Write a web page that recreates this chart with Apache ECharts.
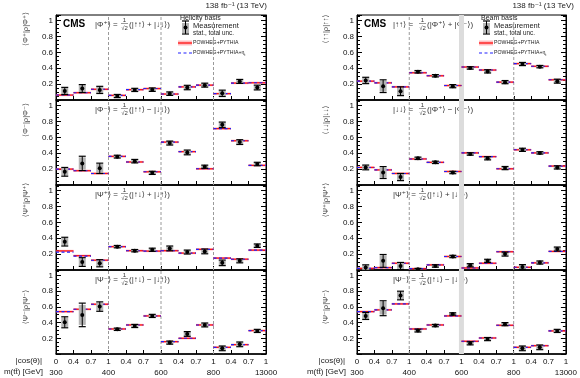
<!DOCTYPE html>
<html><head><meta charset="utf-8">
<script src="https://cdn.jsdelivr.net/npm/echarts@6/dist/echarts.min.js"></script>
<style>html,body{margin:0;padding:0;background:#fff}#c{width:580px;height:378px}</style>
</head><body><div id="c"></div>
<script>
// ---- tick labels ----
const cosLabels = ['0','0.4','0.7','1','0.4','0.7','1','0.4','0.7','1','0.4','0.7','1'];
const massLabels = ['300','','','400','','','600','','','800','','','13000'];

// ---- Helicity basis (left column) ----
const hel_phiPlus_meas = [0.114,0.144,0.127,0.050,0.127,0.130,0.080,0.157,0.187,0.084,0.234,0.157];
const hel_phiPlus_err  = [0.045,0.050,0.045,0.020,0.020,0.022,0.022,0.028,0.025,0.040,0.025,0.030];
const hel_phiPlus_pred = [0.062,0.092,0.135,0.058,0.130,0.144,0.075,0.165,0.187,0.080,0.213,0.217];
const hel_phiPlus_eta  = [0.062,0.092,0.135,0.058,0.130,0.144,0.075,0.165,0.187,0.080,0.213,0.217];

const hel_phiMinus_meas = [0.166,0.272,0.210,0.357,0.300,0.153,0.528,0.410,0.230,0.757,0.540,0.264];
const hel_phiMinus_err  = [0.055,0.090,0.065,0.018,0.022,0.020,0.025,0.030,0.020,0.035,0.030,0.022];
const hel_phiMinus_pred = [0.200,0.180,0.145,0.360,0.290,0.166,0.540,0.420,0.204,0.710,0.557,0.247];
const hel_phiMinus_eta  = [0.200,0.180,0.145,0.360,0.290,0.166,0.540,0.420,0.204,0.710,0.557,0.247];

const hel_psiPlus_meas = [0.357,0.100,0.085,0.294,0.243,0.255,0.272,0.226,0.234,0.090,0.115,0.306];
const hel_psiPlus_err  = [0.055,0.055,0.045,0.015,0.015,0.020,0.030,0.025,0.030,0.035,0.025,0.022];
const hel_psiPlus_pred = [0.240,0.180,0.123,0.294,0.243,0.238,0.243,0.213,0.260,0.150,0.136,0.250];
const hel_psiPlus_eta  = [0.225,0.175,0.123,0.294,0.243,0.238,0.243,0.213,0.260,0.150,0.136,0.250];

const hel_psiMinus_meas = [0.404,0.498,0.604,0.315,0.357,0.485,0.145,0.255,0.370,0.072,0.123,0.294];
const hel_psiMinus_err  = [0.070,0.150,0.060,0.015,0.020,0.020,0.020,0.030,0.025,0.030,0.030,0.020];
const hel_psiMinus_pred = [0.540,0.570,0.634,0.319,0.370,0.485,0.157,0.200,0.370,0.085,0.119,0.298];
const hel_psiMinus_eta  = [0.540,0.570,0.634,0.319,0.370,0.485,0.157,0.200,0.370,0.085,0.119,0.298];

// ---- Beam basis (right column) ----
const beam_upup_meas = [0.246,0.174,0.110,0.356,0.305,0.174,0.403,0.360,0.225,0.453,0.420,0.237];
const beam_upup_err  = [0.040,0.080,0.055,0.015,0.015,0.020,0.015,0.020,0.020,0.020,0.015,0.025];
const beam_upup_pred = [0.237,0.216,0.165,0.343,0.305,0.182,0.415,0.377,0.225,0.458,0.424,0.254];
const beam_upup_eta  = [0.237,0.216,0.165,0.343,0.305,0.182,0.415,0.377,0.225,0.458,0.424,0.254];

const beam_dndn_meas = [0.221,0.157,0.100,0.336,0.285,0.157,0.390,0.336,0.213,0.443,0.404,0.221];
const beam_dndn_err  = [0.030,0.075,0.045,0.015,0.015,0.015,0.015,0.020,0.020,0.020,0.015,0.020];
const beam_dndn_pred = [0.221,0.190,0.145,0.328,0.285,0.170,0.404,0.357,0.204,0.443,0.404,0.238];
const beam_dndn_eta  = [0.221,0.190,0.145,0.328,0.285,0.170,0.404,0.357,0.204,0.443,0.404,0.238];

const beam_psiPlus_meas = [0.030,0.115,0.050,0.010,0.050,0.170,0.060,0.115,0.200,0.038,0.094,0.264];
const beam_psiPlus_err  = [0.035,0.080,0.045,0.010,0.015,0.015,0.020,0.020,0.025,0.030,0.020,0.025];
const beam_psiPlus_pred = [0.020,0.030,0.085,0.017,0.064,0.170,0.026,0.085,0.230,0.034,0.090,0.234];
const beam_psiPlus_eta  = [0.020,0.030,0.085,0.017,0.064,0.170,0.026,0.085,0.230,0.034,0.090,0.234];

const beam_psiMinus_meas = [0.485,0.583,0.745,0.298,0.362,0.510,0.136,0.190,0.380,0.072,0.085,0.294];
const beam_psiMinus_err  = [0.045,0.095,0.055,0.018,0.015,0.015,0.020,0.020,0.020,0.030,0.030,0.020];
const beam_psiMinus_pred = [0.540,0.562,0.638,0.319,0.370,0.485,0.162,0.204,0.366,0.085,0.106,0.294];
const beam_psiMinus_eta  = [0.540,0.562,0.638,0.319,0.370,0.485,0.162,0.204,0.366,0.085,0.106,0.294];

const FONT = '"Liberation Sans", Arial, "DejaVu Sans", sans-serif';
const YMAX = 1.07;

const panels = [
 {col:0,row:0,meas:hel_phiPlus_meas,err:hel_phiPlus_err,pred:hel_phiPlus_pred,eta:hel_phiPlus_eta,title:'⟨Φ⁺|ρ|Φ⁺⟩',lhs:'|Φ⁺⟩ =',rhs:'(|↑↑⟩ + |↓↓⟩)'},
 {col:0,row:1,meas:hel_phiMinus_meas,err:hel_phiMinus_err,pred:hel_phiMinus_pred,eta:hel_phiMinus_eta,title:'⟨Φ⁻|ρ|Φ⁻⟩',lhs:'|Φ⁻⟩ =',rhs:'(|↑↑⟩ − |↓↓⟩)'},
 {col:0,row:2,meas:hel_psiPlus_meas,err:hel_psiPlus_err,pred:hel_psiPlus_pred,eta:hel_psiPlus_eta,title:'⟨Ψ⁺|ρ|Ψ⁺⟩',lhs:'|Ψ⁺⟩ =',rhs:'(|↑↓⟩ + |↓↑⟩)'},
 {col:0,row:3,meas:hel_psiMinus_meas,err:hel_psiMinus_err,pred:hel_psiMinus_pred,eta:hel_psiMinus_eta,title:'⟨Ψ⁻|ρ|Ψ⁻⟩',lhs:'|Ψ⁻⟩ =',rhs:'(|↑↓⟩ − |↓↑⟩)'},
 {col:1,row:0,meas:beam_upup_meas,err:beam_upup_err,pred:beam_upup_pred,eta:beam_upup_eta,title:'⟨↑↑|ρ|↑↑⟩',lhs:'|↑↑⟩ =',rhs:'(|Φ⁺⟩ + |Φ⁻⟩)'},
 {col:1,row:1,meas:beam_dndn_meas,err:beam_dndn_err,pred:beam_dndn_pred,eta:beam_dndn_eta,title:'⟨↓↓|ρ|↓↓⟩',lhs:'|↓↓⟩ =',rhs:'(|Φ⁺⟩ − |Φ⁻⟩)'},
 {col:1,row:2,meas:beam_psiPlus_meas,err:beam_psiPlus_err,pred:beam_psiPlus_pred,eta:beam_psiPlus_eta,title:'⟨Ψ⁺|ρ|Ψ⁺⟩',lhs:'|Ψ⁺⟩ =',rhs:'(|↑↓⟩ + |↓↑⟩)'},
 {col:1,row:3,meas:beam_psiMinus_meas,err:beam_psiMinus_err,pred:beam_psiMinus_pred,eta:beam_psiMinus_eta,title:'⟨Ψ⁻|ρ|Ψ⁻⟩',lhs:'|Ψ⁻⟩ =',rhs:'(|↑↓⟩ − |↓↑⟩)'}
];

const colLeft = [56, 357], colWidth = [210, 209];
const rowTop = [15, 100, 185, 270], rowH = 85;
const annY = [25, 110, 195, 280];
const titleY = [29, 120, 200, 307];

const grids = [], xAxes = [], yAxes = [], series = [], graphics = [];

function predRender(params, api) {
  const i = api.value(0), v = api.value(1), ve = api.value(2);
  const p0 = api.coord([i, v]), p1 = api.coord([i + 1, v]);
  const b0 = api.coord([i, v + 0.014]), b1 = api.coord([i + 1, v - 0.014]);
  const e0 = api.coord([i, ve]), e1 = api.coord([i + 1, ve]);
  return {type:'group', children:[
    {type:'rect', shape:{x:b0[0], y:b0[1], width:b1[0]-b0[0], height:b1[1]-b0[1]}, style:{fill:'rgba(255,110,120,0.45)'}},
    {type:'line', shape:{x1:p0[0], y1:p0[1], x2:p1[0], y2:p1[1]}, style:{stroke:'#ff1010', lineWidth:1.3}},
    {type:'line', shape:{x1:e0[0], y1:e0[1], x2:e1[0], y2:e1[1]}, style:{stroke:'#2020ff', lineWidth:1.1, lineDash:[3,2.5]}}
  ]};
}
function measRender(params, api) {
  const x = api.value(0), v = api.value(1), e = api.value(2);
  const c = api.coord([x, v]), t = api.coord([x, v + e]), b = api.coord([x, v - e]);
  const tg = api.coord([x, v + e * 0.85]), bg = api.coord([x, v - e * 0.85]);
  return {type:'group', children:[
    {type:'rect', shape:{x:c[0]-3.5, y:tg[1], width:7, height:bg[1]-tg[1]}, style:{fill:'#b4b4b4'}},
    {type:'line', shape:{x1:c[0], y1:t[1], x2:c[0], y2:b[1]}, style:{stroke:'#000', lineWidth:1}},
    {type:'line', shape:{x1:c[0]-3.5, y1:t[1], x2:c[0]+3.5, y2:t[1]}, style:{stroke:'#000', lineWidth:1.2}},
    {type:'line', shape:{x1:c[0]-3.5, y1:b[1], x2:c[0]+3.5, y2:b[1]}, style:{stroke:'#000', lineWidth:1.2}},
    {type:'circle', shape:{cx:c[0], cy:c[1], r:2}, style:{fill:'#000'}}
  ]};
}
function sepRender(params, api) {
  const x = api.value(0), w = api.value(1);
  const a = api.coord([x, 0]), b = api.coord([x, YMAX]);
  if (w > 1) return {type:'line', shape:{x1:a[0], y1:a[1], x2:b[0], y2:b[1]}, style:{stroke:'#dcdcdc', lineWidth:w}};
  return {type:'line', shape:{x1:a[0], y1:a[1], x2:b[0], y2:b[1]}, style:{stroke:'#9a9a9a', lineWidth:1, lineDash:[3,2]}};
}

panels.forEach((p, g) => {
  grids.push({left: colLeft[p.col], width: colWidth[p.col], top: rowTop[p.row], height: rowH,
    show: true, borderColor: '#000', borderWidth: 1, backgroundColor: 'transparent'});
  const bottom = p.row === 3;
  xAxes.push({type:'value', gridIndex:g, min:0, max:12, interval:1,
    axisLine:{show:true, onZero:false, lineStyle:{color:'#000', width: 1.5}},
    axisTick:{show:true, inside:true, length:4, lineStyle:{color:'#000'}},
    splitLine:{show:false},
    axisLabel:{show:bottom, margin:2, color:'#111', fontSize:8, fontFamily:FONT, lineHeight:11,
      formatter: v => cosLabels[Math.round(v)] + '\n' + (massLabels[Math.round(v)] || ' ')}
  });
  const fmt = v => (v < 0.01 || v > 1.001) ? '' : String(+v.toFixed(1));
  yAxes.push({type:'value', gridIndex:g, min:0, max:YMAX, interval:0.2, position:'left',
    axisLine:{show:true, onZero:false, lineStyle:{color:'#000'}},
    axisTick:{show:true, inside:true, length:5, lineStyle:{color:'#000'}},
    minorTick:{show:true, splitNumber:4, length:3, lineStyle:{color:'#000'}},
    splitLine:{show:false}, minorSplitLine:{show:false},
    axisLabel:{show:true, margin:3, color:'#111', fontSize:8, fontFamily:FONT, formatter: fmt, showMaxLabel:false}
  });
  yAxes.push({type:'value', gridIndex:g, min:0, max:YMAX, interval:0.2, position:'right',
    axisLine:{show:true, onZero:false, lineStyle:{color:'#000'}},
    axisTick:{show:true, inside:true, length:5, lineStyle:{color:'#000'}},
    minorTick:{show:true, splitNumber:4, length:3, lineStyle:{color:'#000'}},
    splitLine:{show:false}, axisLabel:{show:false}
  });
  const seps = p.col === 1 ? [[3,1],[6,5],[9,1]] : [[3,1],[6,1],[9,1]];
  series.push({type:'custom', xAxisIndex:g, yAxisIndex:2*g, renderItem: sepRender, data: seps, clip:true, z:1, silent:true});
  series.push({type:'custom', xAxisIndex:g, yAxisIndex:2*g, renderItem: predRender,
    data: p.pred.map((v, i) => [i, v, p.eta[i]]), clip:true, z:3, silent:true});
  series.push({type:'custom', xAxisIndex:g, yAxisIndex:2*g, renderItem: measRender,
    data: p.meas.map((v, i) => [i + 0.5, v, p.err[i]]), clip:true, z:4, silent:true});

  // y-axis title
  const tx = p.col === 0 ? 26 : 326;
  graphics.push({type:'text', x: tx, y: titleY[p.row], rotation: Math.PI/2,
    style:{text: p.title, fontSize:7.5, fill:'#444', align:'center', verticalAlign:'middle', fontFamily:FONT}});
  // annotation formula
  const ax = p.col === 0 ? 95 : 393;
  const ay = annY[p.row];
  graphics.push({type:'text', x: ax, y: ay, style:{text: p.lhs, fontSize:8, fill:'#333', align:'left', verticalAlign:'middle', fontFamily:FONT}});
  graphics.push({type:'text', x: ax + 29.5, y: ay - 5, style:{text: '1', fontSize:6, fill:'#333', align:'center', verticalAlign:'middle', fontFamily:FONT}});
  graphics.push({type:'line', shape:{x1: ax + 26, y1: ay - 1.5, x2: ax + 33, y2: ay - 1.5}, style:{stroke:'#555', lineWidth:0.6}});
  graphics.push({type:'text', x: ax + 29.5, y: ay + 3.5, style:{text: '√2', fontSize:6, fill:'#333', align:'center', verticalAlign:'middle', fontFamily:FONT}});
  graphics.push({type:'text', x: ax + 34, y: ay, style:{text: p.rhs, fontSize:8, fill:'#333', align:'left', verticalAlign:'middle', fontFamily:FONT}});
});

// CMS, lumi, legends, axis captions
[0, 1].forEach(c => {
  const off = c === 0 ? 0 : 301;
  graphics.push({type:'text', x: 63 + off, y: 24, style:{text:'CMS', fontSize:10, fontWeight:'bold', fill:'#000', align:'left', verticalAlign:'middle', fontFamily:FONT}});
  graphics.push({type:'text', x: c === 0 ? 267 : 574, y: 6, style:{text:'138 fb⁻¹ (13 TeV)', fontSize:8, fill:'#222', align:'right', verticalAlign:'middle', fontFamily:FONT}});
  const lx = 178 + off;
  graphics.push({type:'text', x: lx + 2, y: 18, style:{text: c === 0 ? 'Helicity basis' : 'Beam basis', fontSize:7, fill:'#222', align:'left', verticalAlign:'middle', fontFamily:FONT}});
  graphics.push({type:'rect', shape:{x: lx + 4, y: 23, width:7, height:10}, style:{fill:'#b4b4b4'}});
  graphics.push({type:'line', shape:{x1: lx + 7.5, y1: 21, x2: lx + 7.5, y2: 34}, style:{stroke:'#000', lineWidth:1}});
  graphics.push({type:'line', shape:{x1: lx + 4, y1: 21, x2: lx + 11, y2: 21}, style:{stroke:'#000', lineWidth:1.2}});
  graphics.push({type:'line', shape:{x1: lx + 4, y1: 34, x2: lx + 11, y2: 34}, style:{stroke:'#000', lineWidth:1.2}});
  graphics.push({type:'circle', shape:{cx: lx + 7.5, cy: 27.5, r:2}, style:{fill:'#000'}});
  graphics.push({type:'text', x: lx + 15, y: 25.5, style:{text:'Measurement', fontSize:7.5, fill:'#222', align:'left', verticalAlign:'middle', fontFamily:FONT}});
  graphics.push({type:'text', x: lx + 15, y: 33, style:{text:'stat., total unc.', fontSize:6.3, fill:'#222', align:'left', verticalAlign:'middle', fontFamily:FONT}});
  graphics.push({type:'rect', shape:{x: lx, y: 40.5, width:14, height:5}, style:{fill:'rgba(255,110,120,0.45)'}});
  graphics.push({type:'line', shape:{x1: lx, y1: 43, x2: lx + 14, y2: 43}, style:{stroke:'#ff1010', lineWidth:1.3}});
  graphics.push({type:'text', x: lx + 15, y: 43, style:{text:'POWHEG+PYTHIA', fontSize:5.2, fill:'#222', align:'left', verticalAlign:'middle', fontFamily:FONT}});
  graphics.push({type:'line', shape:{x1: lx, y1: 53, x2: lx + 14, y2: 53}, style:{stroke:'#2020ff', lineWidth:1.1, lineDash:[3,2.5]}});
  graphics.push({type:'text', x: lx + 15, y: 53, style:{text:'{a|POWHEG+PYTHIA+η}{s|t}', fill:'#222', align:'left', verticalAlign:'middle', fontFamily:FONT,
    rich:{a:{fontSize:5.2, fill:'#222', fontFamily:FONT}, s:{fontSize:4, fill:'#222', fontFamily:FONT, verticalAlign:'bottom', padding:[3,0,0,0]}}}});
  const bx = c === 0 ? 42 : 345;
  graphics.push({type:'text', x: bx, y: 361, style:{text:'|cos(θ)|', fontSize:8, fill:'#222', align:'right', verticalAlign:'middle', fontFamily:FONT}});
  graphics.push({type:'text', x: bx + 1, y: 372, style:{text:'m(tt̄) [GeV]', fontSize:8, fill:'#222', align:'right', verticalAlign:'middle', fontFamily:FONT}});
});

const chart = echarts.init(document.getElementById('c'), null, {renderer:'canvas'});
chart.setOption({
  animation:false,
  backgroundColor:'#fff',
  grid: grids, xAxis: xAxes, yAxis: yAxes, series: series,
  graphic: graphics
});
</script></body></html>
